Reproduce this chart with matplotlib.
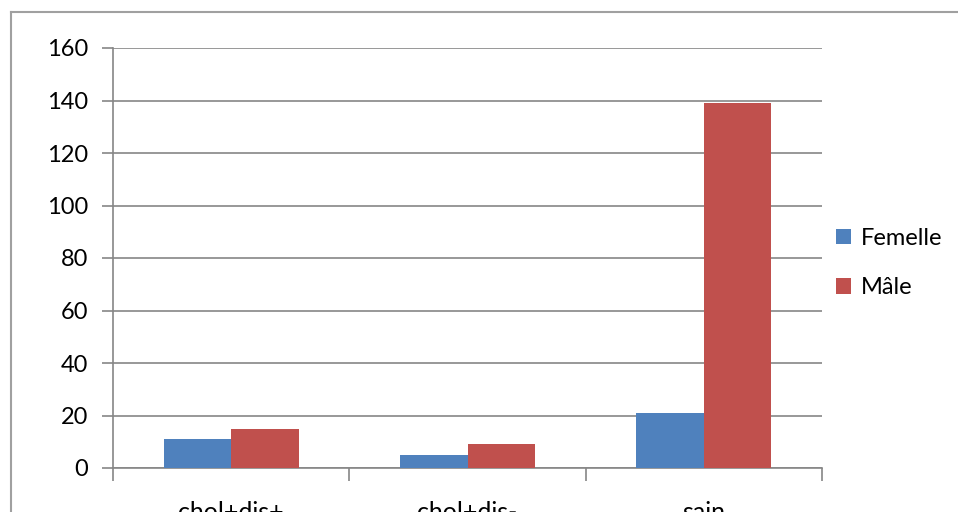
import numpy as np
import matplotlib.pyplot as plt
from matplotlib.lines import Line2D

categories = ['chol+dis+', 'chol+dis-', 'sain']
femelle = [11, 5, 21]
male = [15, 9, 139]
series_names = ['Femelle', 'Mâle']
yticks = [0, 20, 40, 60, 80, 100, 120, 140, 160]

plt.rcParams['font.family'] = ['Lato', 'DejaVu Sans']

W, H = 958, 512
fig = plt.figure(figsize=(W / 100, H / 100), dpi=100)
ax = fig.add_axes([113 / W, 44 / H, (822 - 113) / W, 420 / H])

# excel style: gap width 150%
x = np.arange(len(categories))
bw = 1 / 3.5
ax.bar(x - bw / 2, femelle, bw, color='#4F81BD', label=series_names[0], zorder=3)
ax.bar(x + bw / 2, male, bw, color='#C0504D', label=series_names[1], zorder=3)

ax.set_xlim(-0.5, len(categories) - 0.5)
ax.set_ylim(0, 160)
ax.set_yticks(yticks)
ax.yaxis.grid(True, color='#868686', linewidth=1.2, zorder=0)
ax.tick_params(axis='y', length=8, width=1.2, color='#868686', labelsize=17, pad=10)

# category boundaries get tick marks, names sit in the middle
ax.set_xticks(np.arange(len(categories) + 1) - 0.5)
ax.set_xticklabels([])
ax.set_xticks(x, minor=True)
ax.set_xticklabels(categories, minor=True)
ax.tick_params(axis='x', which='major', length=9, width=1.2, color='#868686')
ax.tick_params(axis='x', which='minor', length=0, labelsize=18, pad=24)

for s in ['top', 'right']:
    ax.spines[s].set_visible(False)
for s in ['left', 'bottom']:
    ax.spines[s].set_color('#868686')
    ax.spines[s].set_linewidth(1.2)

ax.legend(loc='center left', bbox_to_anchor=(836 / W, (H - 263) / H),
          bbox_transform=fig.transFigure, frameon=False, fontsize=17,
          handlelength=0.65, handleheight=0.65, handletextpad=0.4,
          labelspacing=1.2, borderaxespad=0, borderpad=0)

# chart border (cropped on right and bottom)
fig.add_artist(Line2D([11 / W, 11 / W], [0, 1 - 12 / H], transform=fig.transFigure,
                      color='#a0a0a0', linewidth=1.5))
fig.add_artist(Line2D([11 / W, 1], [1 - 12 / H, 1 - 12 / H], transform=fig.transFigure,
                      color='#a0a0a0', linewidth=1.5))

fig.savefig('out.png', dpi=100)
